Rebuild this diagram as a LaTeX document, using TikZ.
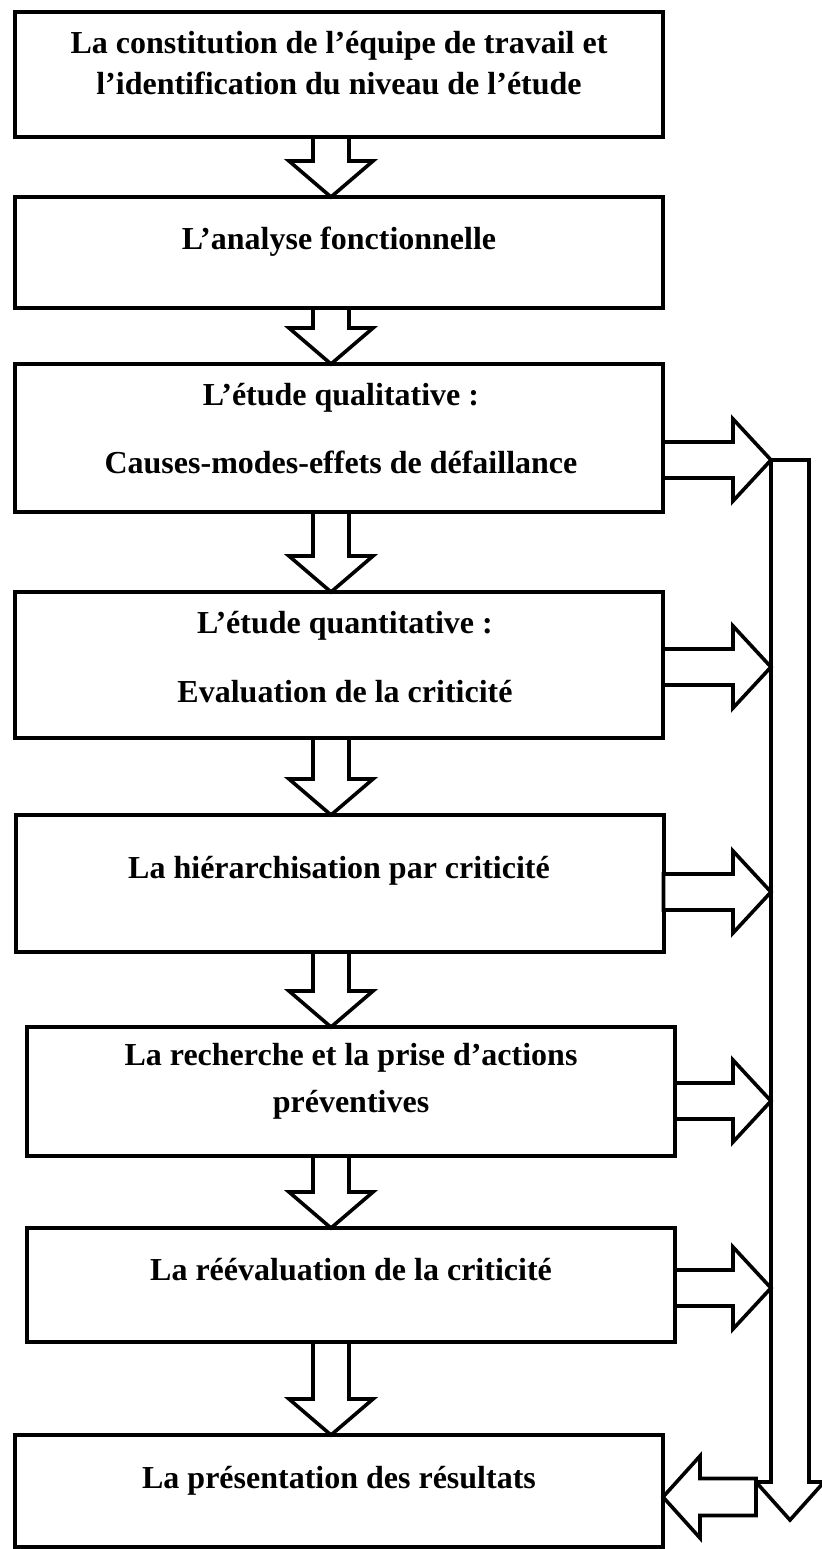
\documentclass[tikz,border=0pt]{standalone}
\usepackage{fontspec}
\setmainfont{Liberation Serif}
\usetikzlibrary{calc}

\tikzset{
  box/.style={draw,line width=2pt,minimum width=324pt,inner sep=0pt,outer sep=0pt},
  txt/.style={font=\fontsize{16}{20.5}\selectfont\bfseries,align=center,inner sep=0pt,anchor=base},
  blockarrow/.style={draw,fill=white,line width=1.8pt,line join=miter}
}

% hollow arrow from the bottom of #1 down to the top of #2
\newcommand\blockdown[2]{%
  \draw[blockarrow] let \p1=(#1.south -| ax), \p2=(#2.north -| ax) in
    (\x1-9pt,\y1) -- (\x1-9pt,\y2+18pt) -- (\x1-21pt,\y2+18pt) -- (\x2,\y2)
    -- (\x1+21pt,\y2+18pt) -- (\x1+9pt,\y2+18pt) -- (\x1+9pt,\y1) -- cycle;}

% hollow arrow from the right side of #1 (at height #2) to the bar
\newcommand\blockright[2]{%
  \draw[blockarrow] let \p1=(#1.east |- 0,#2), \p2=(bartop |- 0,#2) in
    (\x1,\y1+9pt) -- (\x2-28.5pt,\y1+9pt) -- (\x2-28.5pt,\y1+20.5pt) -- (\x2-9.5pt,\y1)
    -- (\x2-28.5pt,\y1-20.5pt) -- (\x2-28.5pt,\y1-9pt) -- (\x1,\y1-9pt) -- cycle;}

\begin{document}
\begin{tikzpicture}[x=0.5pt,y=-0.5pt]
\useasboundingbox (0,0) rectangle (822,1549);
\fill[white] (0,0) rectangle (822,1549);

\coordinate (ax) at (331,0);
\coordinate (bartop) at (790,460);
\coordinate (barend) at (790,1520);

% steps
\node[box,minimum height=62.5pt] (b1) at (339,74.5) {};
\node[box,minimum height=55.5pt] (b2) at (339,252.5) {};
\node[box,minimum height=74pt]   (b3) at (339,438) {};
\node[box,minimum height=73pt]   (b4) at (339,665) {};
\node[box,minimum height=68.5pt] (b5) at (339.5,883.5) {};
\node[box,minimum height=64.5pt] (b6) at (351,1091.5) {};
\node[box,minimum height=57pt]   (b7) at (351,1285) {};
\node[box,minimum height=56pt]   (b8) at (339,1491) {};

% texts (base = last line)
\node[txt] (t1) at (339,94) {La constitution de l’équipe de travail et\\l’identification du niveau de l’étude};
\node[txt] (t2) at (339,249) {L’analyse fonctionnelle};
\node[txt] (t3) at (341,473) {L’étude qualitative :\\[13.5pt]Causes-modes-effets de défaillance};
\node[txt] (t4) at (345,702) {L’étude quantitative :\\[14pt]Evaluation de la criticité};
\node[txt] (t5) at (339,878) {La hiérarchisation par criticité};
\node[txt] (t6) at (351,1112) {La recherche et la prise d’actions\\[3pt]préventives};
\node[txt] (t7) at (351,1280) {La réévaluation de la criticité};
\node[txt] (t8) at (339,1488) {La présentation des résultats};

% main sequence
\blockdown{b1}{b2}
\blockdown{b2}{b3}
\blockdown{b3}{b4}
\blockdown{b4}{b5}
\blockdown{b5}{b6}
\blockdown{b6}{b7}
\blockdown{b7}{b8}

% feedback bar on the right
\draw[blockarrow] let \p1=(bartop), \p2=(barend) in
  (\x1-9.5pt,\y1) -- (\x1+9.5pt,\y1) -- (\x1+9.5pt,\y2+19pt) -- (\x1+17pt,\y2+19pt)
  -- (\x2,\y2) -- (\x1-17pt,\y2+19pt) -- (\x1-9.5pt,\y2+19pt) -- cycle;

\blockright{b3}{460}
\blockright{b4}{667}
\blockright{b5}{892}
\blockright{b6}{1101}
\blockright{b7}{1288}

\draw[blockarrow] let \p1=(b8.east |- 0,1497), \p2=(barend) in
  (\x1,\y1) -- (\x1+18.5pt,\y1+20.5pt) -- (\x1+18.5pt,\y1+9.25pt) -- (\x2-17pt,\y1+9.25pt)
  -- (\x2-17pt,\y1-9.25pt) -- (\x1+18.5pt,\y1-9.25pt) -- (\x1+18.5pt,\y1-20.5pt) -- cycle;
\end{tikzpicture}
\end{document}
